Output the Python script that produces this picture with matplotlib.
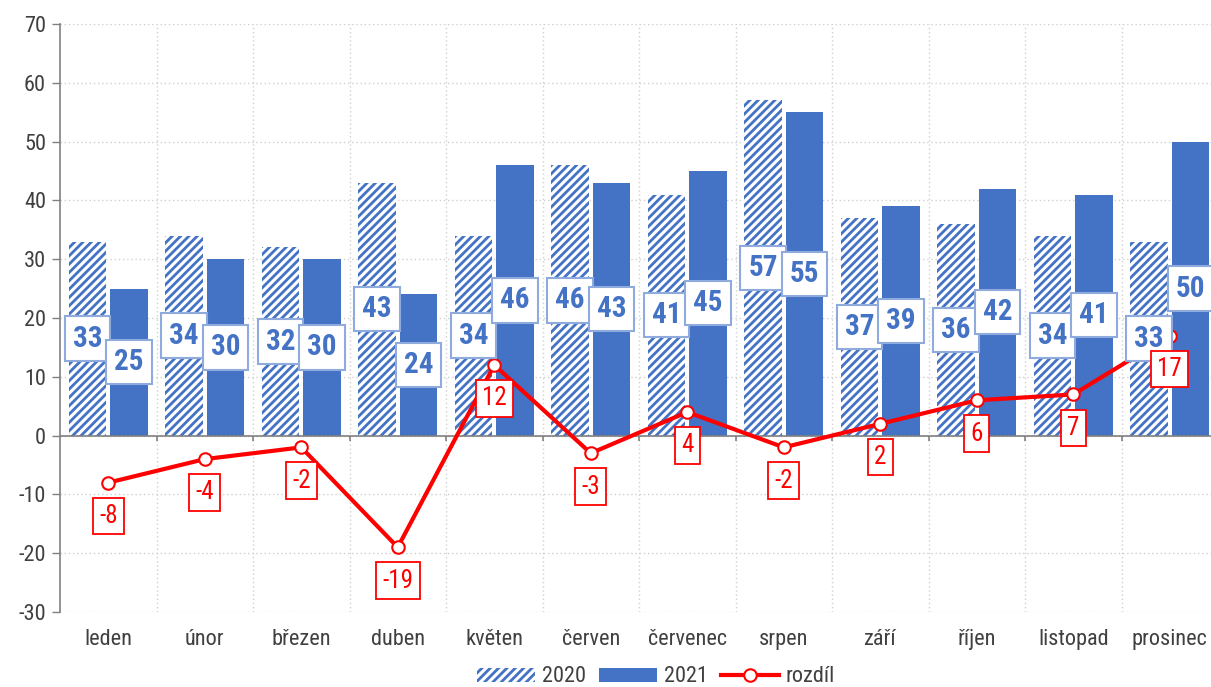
import matplotlib
matplotlib.use("Agg")
import matplotlib.pyplot as plt
from matplotlib import font_manager as fm
from matplotlib.patches import Patch
from matplotlib.lines import Line2D
import numpy as np

months = ["leden", "únor", "březen", "duben", "květen", "červen", "červenec",
          "srpen", "září", "říjen", "listopad", "prosinec"]
v2020 = [33, 34, 32, 43, 34, 46, 41, 57, 37, 36, 34, 33]
v2021 = [25, 30, 30, 24, 46, 43, 45, 55, 39, 42, 41, 50]
diff = [-8, -4, -2, -19, 12, -3, 4, -2, 2, 6, 7, 17]
yticks = list(range(-30, 80, 10))

BLUE = "#4472C4"
LBLUE = "#8FAADC"
RED = "#FF0000"

# find a narrow/condensed font if available
names = {f.name for f in fm.fontManager.ttflist}
stretches = {(f.name, f.stretch) for f in fm.fontManager.ttflist}
family = None
stretch = "normal"
for cand in ["Liberation Sans Narrow", "Arial Narrow", "Roboto Condensed",
             "DejaVu Sans Condensed", "Open Sans Condensed"]:
    if cand in names:
        family = cand
        break
if family is None:
    for nm, st in stretches:
        if nm in ("Roboto", "DejaVu Sans", "Open Sans", "Noto Sans") and st in ("condensed", "semi-condensed", 75, 87):
            family = nm
            stretch = "condensed"
            break
if family is None:
    family = "Liberation Sans"

plt.rcParams['font.family'] = [family, 'Liberation Sans', 'DejaVu Sans']
plt.rcParams['font.stretch'] = stretch
plt.rcParams['hatch.linewidth'] = 2.0

fig = plt.figure(figsize=(12.11, 6.87), dpi=100)
ax = fig.add_axes([60/1211, 1-612/687, (1218-60)/1211, (612-24)/687])

x = np.arange(len(months))
w = 0.385
off = 0.215
ax.bar(x - off, v2020, w, facecolor="white", edgecolor=BLUE, linewidth=0,
       hatch="////", zorder=2)
ax.bar(x + off, v2021, w, color=BLUE, linewidth=0, zorder=2)

ax.plot(x, diff, color=RED, lw=3, marker="o", ms=9, mfc="white", mec=RED, mew=1.5,
        zorder=3)

lab_kw = dict(ha="center", va="center", fontsize=21, fontweight="bold",
              color=BLUE, zorder=4,
              bbox=dict(boxstyle="square,pad=0.28", fc="white", ec=LBLUE, lw=1.5))
for xi, v in zip(x - off, v2020):
    ax.text(xi, v / 2, str(v), **lab_kw)
for xi, v in zip(x + off, v2021):
    ax.text(xi, v / 2, str(v), **lab_kw)
for xi, v in zip(x, diff):
    ax.annotate(str(v), (xi, v), xytext=(0, -24), textcoords="offset points",
                ha="center", va="center", fontsize=18, color=RED, zorder=5,
                bbox=dict(boxstyle="square,pad=0.25", fc="white", ec=RED, lw=1.3))

ax.set_xlim(-0.5, 11.5)
ax.set_ylim(-30, 70)
ax.set_yticks(yticks)
ax.set_yticklabels([str(t) for t in yticks])
ax.set_xticks(x)
ax.set_xticklabels(months)
ax.tick_params(axis="x", length=0, pad=12, labelsize=16, labelcolor="#404040")
ax.tick_params(axis="y", length=6, width=1, color="#808080", labelsize=16,
               labelcolor="#404040", pad=4)

for s in ["top", "right", "bottom"]:
    ax.spines[s].set_visible(False)
ax.spines["left"].set_color("#808080")
ax.spines["left"].set_linewidth(1.2)

ax.set_axisbelow(True)
ax.grid(axis="y", color="#D0D0D0", linestyle=(0, (1, 2)), linewidth=1)
for b in np.arange(0.5, 11.5, 1):
    ax.axvline(b, color="#D0D0D0", linestyle=(0, (1, 2)), linewidth=1, zorder=0)
ax.axhline(0, color="#808080", lw=1.2, zorder=2.5)
ax.vlines(np.arange(0.5, 11.5, 1), -1.0, 0, color="#808080", lw=1.2, zorder=2.5)

handles = [Patch(facecolor="white", edgecolor=BLUE, linewidth=0, hatch="////", label="2020"),
           Patch(facecolor=BLUE, linewidth=0, label="2021"),
           Line2D([], [], color=RED, lw=3, marker="o", ms=9, mfc="white", mec=RED,
                  mew=1.5, label="rozdíl")]
fig.legend(handles=handles, loc="center", bbox_to_anchor=(656/1211, 1-677/687),
           ncol=3, frameon=False, fontsize=16, handlelength=2.6, handleheight=0.6,
           columnspacing=0.6, handletextpad=0.3, labelcolor="#404040")

fig.savefig("out.png", dpi=100)
